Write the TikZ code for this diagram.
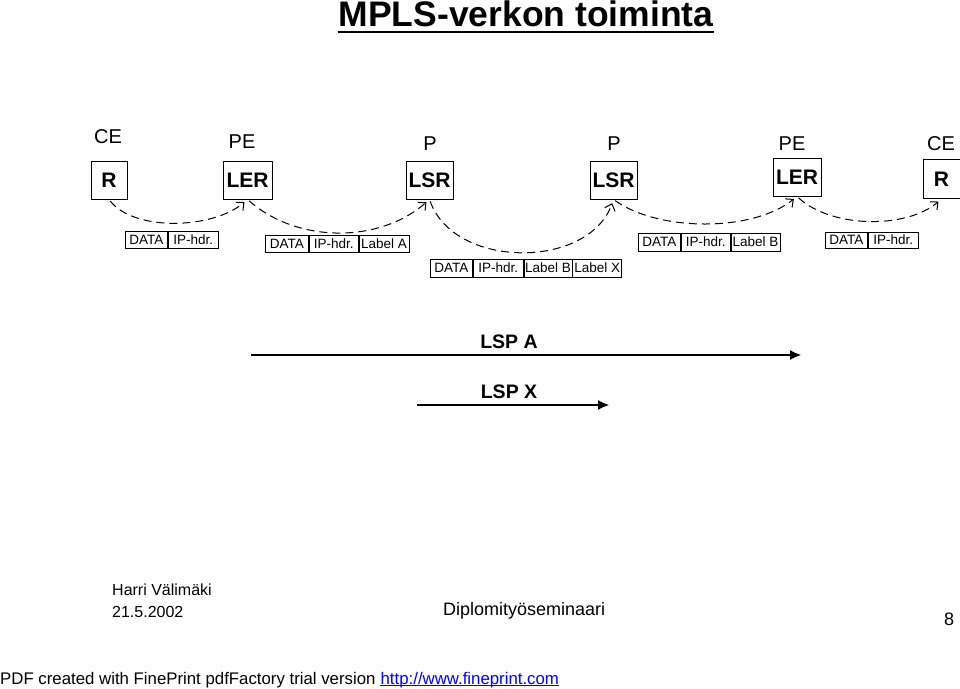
\documentclass[tikz,border=0pt]{standalone}
\usepackage{fontspec}
\setmainfont{Liberation Sans}
\usetikzlibrary{arrows.meta}
\begin{document}
\begin{tikzpicture}[x=1pt,y=-1pt,
  dev/.style={draw, line width=0.9pt, inner sep=0pt, font=\fontsize{21}{23}\selectfont\bfseries},
  role/.style={font=\fontsize{20}{22}\selectfont},
  cell/.style={draw, line width=0.8pt, inner sep=0pt, minimum height=17pt, font=\fontsize{13.5}{14}\selectfont, anchor=west},
  hop/.style={dash pattern=on 8pt off 5pt, line width=1pt, -{Straight Barb[length=6pt,width=11pt]}, shorten >=4pt, shorten <=2pt},
  lsp/.style={line width=1.2pt, -{Latex[length=11pt,width=10pt]}},
  lsplabel/.style={font=\fontsize{19.5}{21}\selectfont\bfseries},
  foot/.style={anchor=base west, inner sep=0pt}
]
\useasboundingbox (0,0) rectangle (960,688);

% title
\node[anchor=base, inner sep=0pt, font=\fontsize{35.5}{40}\selectfont\bfseries] (title) at (526,27) {MPLS-verkon toiminta};
\draw[line width=2pt] ([yshift=-5pt]title.base west) -- ([yshift=-5pt]title.base east);

% roles
\node[role] (ce1) at (108,137) {CE};
\node[role] (pe1) at (242,142) {PE};
\node[role] (p1)  at (430,144) {P};
\node[role] (p2)  at (614,144) {P};
\node[role] (pe2) at (792,144) {PE};
\node[role] (ce2) at (941,144) {CE};

% devices
\node[dev, minimum width=36pt, minimum height=38pt] (r1)   at (109,180) {R};
\node[dev, minimum width=49pt, minimum height=38pt] (ler1) at (247.5,180) {LER};
\node[dev, minimum width=47pt, minimum height=38pt] (lsr1) at (429.5,180) {LSR};
\node[dev, minimum width=47pt, minimum height=38pt] (lsr2) at (613.5,180) {LSR};
\node[dev, minimum width=48pt, minimum height=38pt] (ler2) at (797,177) {LER};
\node[dev, minimum width=37pt, minimum height=39pt] (r2)   at (941.5,179) {R};

% hops
\draw[hop] (r1.south)   .. controls +(25,32) and +(-35,30) .. (ler1.south);
\draw[hop] (ler1.south) .. controls +(50,44) and +(-50,44) .. (lsr1.south);
\draw[hop] (lsr1.south) .. controls +(25,70) and +(-25,70) .. (lsr2.south);
\draw[hop] (lsr2.south) .. controls +(45,32) and +(-45,36) .. (ler2.south);
\draw[hop] (ler2.south) .. controls +(35,32) and +(-35,30) .. (r2.south);

% packets
\node[cell, minimum width=42pt] (a1) at (125,239.5) {DATA};
\node[cell, minimum width=50pt] (a2) at (a1.east) {IP-hdr.};

\node[cell, minimum width=43pt] (b1) at (265,243.5) {DATA};
\node[cell, minimum width=49pt] (b2) at (b1.east) {IP-hdr.};
\node[cell, minimum width=50pt] (b3) at (b2.east) {Label A};

\node[cell, minimum width=42pt, minimum height=18pt] (c1) at (430,268) {DATA};
\node[cell, minimum width=50pt, minimum height=18pt] (c2) at (c1.east) {IP-hdr.};
\node[cell, minimum width=48pt, minimum height=18pt] (c3) at (c2.east) {Label B};
\node[cell, minimum width=49pt, minimum height=18pt] (c4) at (c3.east) {Label X};

\node[cell, minimum width=42pt, minimum height=18pt] (d1) at (638,242) {DATA};
\node[cell, minimum width=49pt, minimum height=18pt] (d2) at (d1.east) {IP-hdr.};
\node[cell, minimum width=49pt, minimum height=18pt] (d3) at (d2.east) {Label B};

\node[cell, minimum width=42pt, minimum height=16pt] (e1) at (825,240) {DATA};
\node[cell, minimum width=50pt, minimum height=16pt] (e2) at (e1.east) {IP-hdr.};

% LSPs
\node[lsplabel] (lspa) at (509,342) {LSP A};
\coordinate (lspas) at (251,355);
\coordinate (lspae) at (801,355);
\draw[lsp] (lspas) -- (lspae);
\node[lsplabel] (lspx) at (509,392) {LSP X};
\coordinate (lspxs) at (417,405);
\coordinate (lspxe) at (609,405);
\draw[lsp] (lspxs) -- (lspxe);

% footer
\node[foot, font=\fontsize{16}{18}\selectfont] (author) at (112,595) {Harri Välimäki};
\node[foot, font=\fontsize{16}{18}\selectfont] (date) at (112,617) {21.5.2002};
\node[foot, font=\fontsize{18}{20}\selectfont] (sem) at (443,615) {Diplomityöseminaari};
\node[foot, font=\fontsize{18}{20}\selectfont] (page) at (944,625) {8};
\node[foot, font=\fontsize{16.8}{18}\selectfont] (pdf) at (0,684) {PDF created with FinePrint pdfFactory trial version};
\node[foot, font=\fontsize{16.8}{18}\selectfont, text=blue] (url) at ([xshift=4.7pt]pdf.base east) {http://www.fineprint.com};
\draw[blue, line width=1pt] ([yshift=-1.8pt]url.base west) -- ([yshift=-1.8pt]url.base east);
\end{tikzpicture}
\end{document}
